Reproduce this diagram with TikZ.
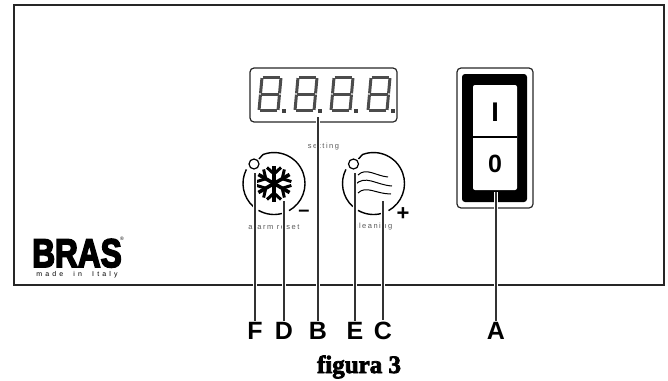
\documentclass[tikz,border=0pt]{standalone}
\usepackage{fontspec}
\setmainfont{Liberation Sans}
\newfontfamily\figfont[BoldFeatures={FakeBold=3}]{Liberation Serif}
\newfontfamily\logofont[BoldFeatures={FakeBold=4.5}]{Liberation Sans}
\newfontfamily\spacedfont[LetterSpace=20]{Liberation Sans}
\newfontfamily\madefont[LetterSpace=45]{Liberation Sans}
\tikzset{
    leader/.style={line width=1.2pt,black!80,preaction={draw,white,line width=3.4pt}},
    callout/.style={font=\fontsize{25}{25}\selectfont\bfseries,anchor=base,inner sep=1pt},
    small/.style={font=\fontsize{7.5}{7.5}\selectfont\spacedfont,black!65,inner sep=0pt},
    segment/.style={line width=3pt,black!70,shorten >=.6pt,shorten <=.6pt},
    knob/.style={line width=1.4pt}
}
\newcommand{\digitcell}[1]{
    \begin{scope}[shift={(#1,77.5)}]
        \draw[segment] (4,0) -- (23,0);
        \draw[segment] (23,0) -- (21.5,16.5);
        \draw[segment] (21.5,16.5) -- (20,33);
        \draw[segment] (20,33) -- (1,33);
        \draw[segment] (1,33) -- (2.5,16.5);
        \draw[segment] (2.5,16.5) -- (4,0);
        \draw[segment] (2.5,16.5) -- (21.5,16.5);
        \fill[black!75] (24,31) rectangle (28,35);
    \end{scope}
}
\begin{document}
\begin{tikzpicture}[x=1pt,y=-1pt]
    \useasboundingbox (0,0) rectangle (668,380);
    \draw[line width=1.3pt,black!85] (14,5) rectangle (664,285);
    % display
    \draw[line width=1.2pt,rounded corners=4pt,black!85] (250,68) rectangle (397,122);
    \foreach \x in {258,294,330,367} {\digitcell{\x}}
    \node[small] (setting) at (323.5,147) {setting};
    % knobs
    \foreach \k in {274,373.5} {
        \begin{scope}[shift={(\k,183.5)}]
            \draw[knob] (-15,-24.5) -- (-11.5,-28.5) -- (-10.6,-29.1) arc (-110:61:31);
            \draw[knob] (75:31) arc (75:120:31);
            \draw[knob] (-153:31) arc (-153:-228:31);
            \draw[line width=1.2pt] (-20,-19.5) circle (5);
        \end{scope}
    }
    % snowflake
    \begin{scope}[shift={(274,183.5)}]
        \foreach \a in {30,90,150,210,270,330} {
            \begin{scope}[rotate=\a]
                \draw[line width=3.6pt] (0,0) -- (18,0);
                \draw[line width=3pt] (16,-7) -- (9.5,0) -- (16,7);
            \end{scope}
        }
    \end{scope}
    % waves
    \draw[line width=1pt] (358,175) .. controls (366,167) and (376,176) .. (388,177);
    \draw[line width=1pt] (355,185) .. controls (365,174) and (376,185) .. (392,186);
    \draw[line width=1pt] (358,193) .. controls (366,185) and (376,194) .. (391,194);
    \node[small] (alarm) at (274,227) {alarm reset};
    \node[small] (cleaning) at (373,227) {cleaning};
    \node[font=\fontsize{20}{20}\selectfont\bfseries,inner sep=0pt] (minus) at (304,213) {--};
    \node[font=\fontsize{22}{22}\selectfont\bfseries,inner sep=0pt] (plus) at (403,214) {+};
    % switch
    \draw[line width=1.2pt,rounded corners=4pt,black!85] (457,68) rectangle (533,208);
    \fill[black,rounded corners=3pt] (462,74) rectangle (527,202);
    \fill[white,rounded corners=2pt] (473,85) rectangle (517,190);
    \draw[line width=1.2pt] (473,137) -- (517,137);
    \node[font=\fontsize{27}{27}\selectfont\bfseries,inner sep=0pt] (one) at (495,112) {I};
    \node[font=\fontsize{25}{25}\selectfont\bfseries,inner sep=0pt] (zero) at (495,164) {0};
    % logo
    \node[font=\fontsize{40}{40}\selectfont\logofont\bfseries,xscale=.79,transform shape,inner sep=0pt,anchor=base] (logo) at (77,267) {BRAS};
    \node[font=\fontsize{5}{5}\selectfont,inner sep=0pt] (reg) at (122,239) {®};
    \node[font=\fontsize{7}{7}\selectfont\madefont,inner sep=0pt,anchor=base] (made) at (77,276) {made\ \ in\ \ Italy};
    % callouts
    \foreach \n/\l/\x/\t in {f/F/255/173,d/D/284/201,b/B/318/117,e/E/355/173,c/C/383/201,a/A/496/192} {
        \node[callout] (\n) at (\x,339) {\l};
        \coordinate (\n top) at (\x,\t);
        \draw[leader] (\n top) -- (\n top |- \n.north);
    }
    \node[font=\fontsize{25}{25}\selectfont\figfont\bfseries,anchor=base] (fig) at (359,373) {figura 3};
\end{tikzpicture}
\end{document}
